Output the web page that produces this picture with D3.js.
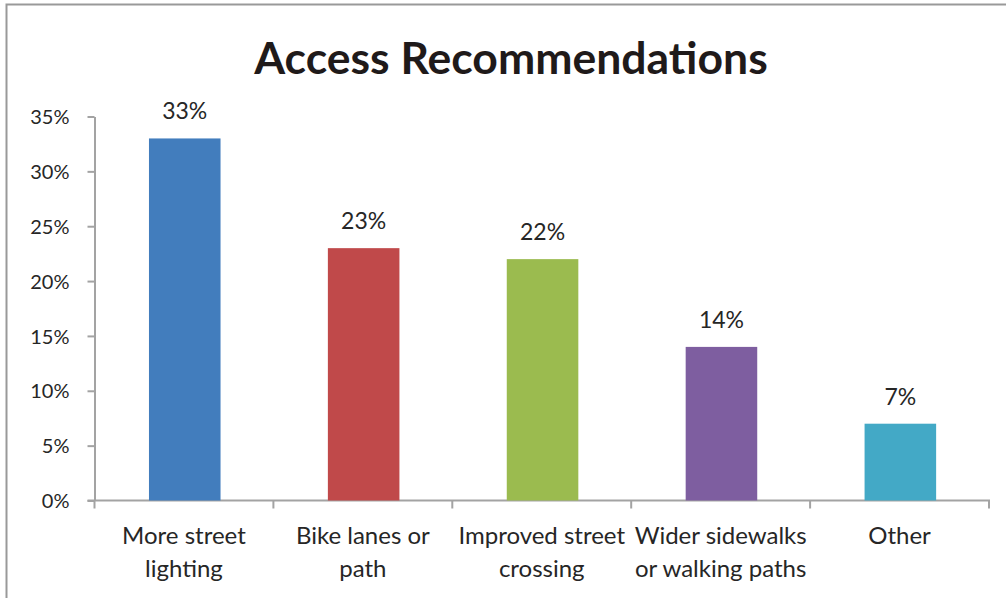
<!DOCTYPE html>
<html>
<head>
<meta charset="utf-8">
<script src="https://cdn.jsdelivr.net/npm/d3@7"></script>
<style>
  html, body { margin: 0; padding: 0; background: #fff; }
  svg { display: block; }
  text { font-family: Lato, "Open Sans", sans-serif; fill: #262626; }
</style>
</head>
<body>
<svg id="chart" width="1006" height="598"></svg>
<script>
// Survey results: share of respondents per recommendation
const categories = [
  ["More street", "lighting"],
  ["Bike lanes or", "path"],
  ["Improved street", "crossing"],
  ["Wider sidewalks", "or walking paths"],
  ["Other"]
];
const values = [33, 23, 22, 14, 7];
const barColors = ["#427dbd", "#c0494a", "#9bbb4f", "#7e5ea0", "#43a9c6"];
const yTicks = [0, 5, 10, 15, 20, 25, 30, 35];
const titleText = "Access Recommendations";

const svg = d3.select("#chart");
const W = 1006, H = 598;
const axisColor = "#a3a3a3";

// Outer frame
svg.append("rect")
  .attr("x", 6.5).attr("y", 4.5)
  .attr("width", W + 10).attr("height", H + 10)
  .attr("fill", "none").attr("stroke", "#999").attr("stroke-width", 2);

// Title
svg.append("text")
  .attr("x", 511).attr("y", 74)
  .attr("text-anchor", "middle")
  .style("font-weight", "bold")
  .style("font-size", "44.5px")
  .style("fill", "#1f1a1a")
  .text(titleText);

// Scales
const plot = { left: 94.5, right: 989, top: 116.5, bottom: 500.5 };
const x = d3.scaleBand()
  .domain(d3.range(values.length))
  .range([plot.left, plot.right])
  .padding(0);
const y = d3.scaleLinear().domain([0, 35]).range([plot.bottom, plot.top]);

// Y axis
const yAxis = svg.append("g")
  .attr("transform", `translate(${plot.left},0)`)
  .call(d3.axisLeft(y).tickValues(yTicks).tickSize(7).tickSizeOuter(0)
    .tickFormat(d => d + "%"));
yAxis.select(".domain").attr("stroke", axisColor).attr("stroke-width", 2);
yAxis.selectAll(".tick line").attr("stroke", axisColor).attr("stroke-width", 2);
yAxis.selectAll(".tick text")
  .attr("x", -25).attr("dy", "0.36em")
  .style("font-size", "20px")
  .style("font-family", "Lato, sans-serif")
  .attr("fill", "#262626");

// X axis with ticks at category boundaries
const xAxisG = svg.append("g");
xAxisG.append("line")
  .attr("x1", plot.left - 7).attr("x2", plot.right + 1)
  .attr("y1", plot.bottom).attr("y2", plot.bottom)
  .attr("stroke", axisColor).attr("stroke-width", 2);
const boundaries = d3.range(values.length).map(i => x(i)).concat([x(values.length - 1) + x.bandwidth()]);
xAxisG.selectAll("line.tick")
  .data(boundaries)
  .join("line")
  .attr("class", "tick")
  .attr("x1", d => d).attr("x2", d => d)
  .attr("y1", plot.bottom).attr("y2", plot.bottom + 8)
  .attr("stroke", axisColor).attr("stroke-width", 2);

// Category labels
const catLabels = svg.append("g").selectAll("text")
  .data(categories)
  .join("text")
  .attr("text-anchor", "middle")
  .attr("x", (d, i) => x(i) + x.bandwidth() / 2)
  .attr("y", 544)
  .style("font-size", "24px");
catLabels.selectAll("tspan")
  .data(d => d)
  .join("tspan")
  .attr("x", function () { return d3.select(this.parentNode).attr("x"); })
  .attr("dy", (d, i) => i === 0 ? 0 : 32.5)
  .text(d => d);

// Bars
const barW = x.bandwidth() * 0.4;
svg.append("g").selectAll("rect")
  .data(values)
  .join("rect")
  .attr("x", (d, i) => x(i) + x.bandwidth() / 2 - barW / 2 + 0.8)
  .attr("y", d => y(d))
  .attr("width", barW)
  .attr("height", d => y(0) - y(d))
  .attr("fill", (d, i) => barColors[i]);

// Value labels
svg.append("g").selectAll("text")
  .data(values)
  .join("text")
  .attr("text-anchor", "middle")
  .attr("x", (d, i) => x(i) + x.bandwidth() / 2 + 0.8)
  .attr("y", d => y(d) - 19)
  .style("font-size", "23px")
  .text(d => d + "%");

// Keep the y-axis line drawn over the bars' base
yAxis.raise();
</script>
</body>
</html>
